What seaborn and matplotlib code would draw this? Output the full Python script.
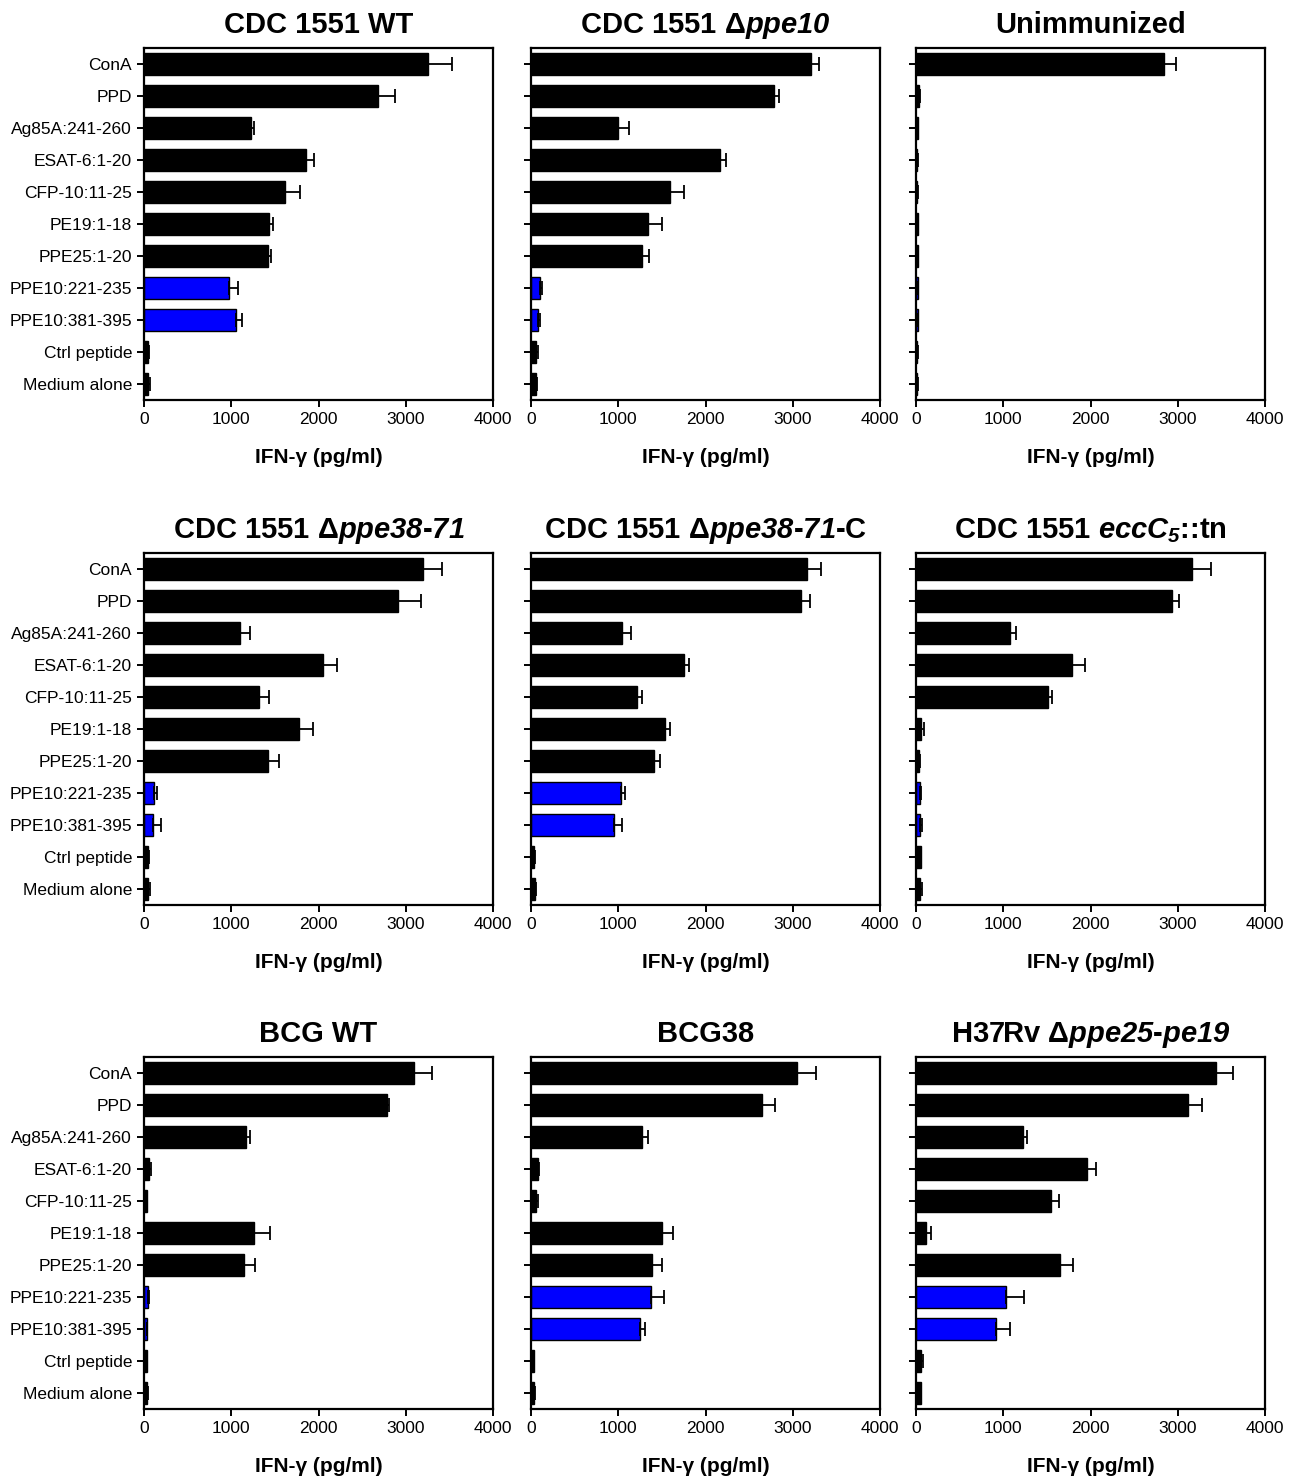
import numpy as np
import pandas as pd
import matplotlib
matplotlib.use("Agg")
import matplotlib.pyplot as plt
import seaborn as sns

# Stimuli (rows of every panel)
stimuli = ["ConA", "PPD", "Ag85A:241-260", "ESAT-6:1-20", "CFP-10:11-25",
           "PE19:1-18", "PPE25:1-20", "PPE10:221-235", "PPE10:381-395",
           "Ctrl peptide", "Medium alone"]

# IFN-gamma means and SEM (pg/ml)
wt_mean = [3250, 2677, 1222, 1856, 1619, 1436, 1421, 974, 1054, 45, 45]
wt_err = [275, 205, 42, 90, 170, 40, 38, 100, 70, 10, 20]

dppe10_mean = [3208, 2789, 998, 2171, 1592, 1345, 1272, 103, 76, 57, 57]
dppe10_err = [95, 50, 125, 60, 160, 155, 80, 27, 30, 20, 8]

unimm_mean = [2839, 38, 18, 15, 15, 20, 18, 20, 18, 15, 15]
unimm_err = [145, 10, 5, 5, 5, 5, 5, 5, 5, 5, 5]

d3871_mean = [3198, 2912, 1095, 2057, 1313, 1782, 1424, 115, 103, 46, 42]
d3871_err = [220, 265, 120, 150, 115, 155, 120, 30, 90, 10, 25]

d3871c_mean = [3162, 3100, 1041, 1753, 1213, 1531, 1405, 1026, 953, 38, 46]
d3871c_err = [165, 100, 100, 58, 58, 61, 73, 57, 88, 10, 10]

ecc_mean = [3166, 2932, 1076, 1788, 1516, 61, 31, 50, 50, 54, 50]
ecc_err = [215, 77, 72, 153, 46, 31, 10, 10, 15, 5, 15]

bcg_mean = [3099, 2786, 1168, 53, 30, 1260, 1141, 50, 30, 30, 38]
bcg_err = [203, 23, 42, 27, 8, 183, 126, 10, 5, 5, 10]

bcg38_mean = [3044, 2646, 1277, 80, 54, 1503, 1384, 1377, 1247, 34, 38]
bcg38_err = [218, 149, 69, 10, 26, 122, 115, 145, 61, 5, 5]

h37_mean = [3435, 3117, 1230, 1964, 1551, 111, 1647, 1032, 913, 61, 53]
h37_err = [195, 165, 42, 95, 84, 57, 149, 202, 160, 15, 5]

# math parts are rendered bold italic (gene names)
titles = [
    "CDC 1551 WT",
    r"CDC 1551 Δ$ppe10$",
    "Unimmunized",
    r"CDC 1551 Δ$ppe38$-$71$",
    r"CDC 1551 Δ$ppe38$-$71$-C",
    r"CDC 1551 $eccC_5$::tn",
    "BCG WT",
    "BCG38",
    r"H37Rv Δ$ppe25$-$pe19$",
]

means = [wt_mean, dppe10_mean, unimm_mean, d3871_mean, d3871c_mean,
         ecc_mean, bcg_mean, bcg38_mean, h37_mean]
errs = [wt_err, dppe10_err, unimm_err, d3871_err, d3871c_err,
        ecc_err, bcg_err, bcg38_err, h37_err]

# Colours: PPE10 peptides highlighted in blue
palette = {s: "black" for s in stimuli}
palette["PPE10:221-235"] = "#0000ff"
palette["PPE10:381-395"] = "#0000ff"

sns.set_theme(style="ticks")
plt.rcParams['font.family'] = ['Liberation Sans', 'DejaVu Sans']
plt.rcParams['text.color'] = 'black'
plt.rcParams['axes.labelcolor'] = 'black'
plt.rcParams['mathtext.fontset'] = 'custom'
plt.rcParams['mathtext.rm'] = 'Liberation Sans:italic:bold'
plt.rcParams['mathtext.it'] = 'Liberation Sans:italic:bold'
plt.rcParams['mathtext.bf'] = 'Liberation Sans:italic:bold'

W, H = 1304, 1479
fig = plt.figure(figsize=(W / 100, H / 100), dpi=100)

col_left = [144, 531, 916]
row_top = [48, 553, 1057]
ax_w, ax_h = 349, 352

for i in range(9):
    r, c = divmod(i, 3)
    ax = fig.add_axes([col_left[c] / W, 1 - (row_top[r] + ax_h) / H, ax_w / W, ax_h / H])
    df = pd.DataFrame({"stimulus": stimuli, "ifng": means[i]})
    sns.barplot(data=df, x="ifng", y="stimulus", hue="stimulus", palette=palette,
                legend=False, orient="h", width=0.7, edgecolor="black",
                linewidth=1, errorbar=None, saturation=1, ax=ax)
    ax.errorbar(means[i], np.arange(len(stimuli)),
                xerr=[np.zeros(len(stimuli)), errs[i]], fmt="none",
                ecolor="black", elinewidth=1.3, capsize=5, capthick=1.3)
    ax.set_xlim(0, 4000)
    ax.set_xticks([0, 1000, 2000, 3000, 4000])
    ax.set_ylim(len(stimuli) - 0.5, -0.5)
    for sp in ax.spines.values():
        sp.set_visible(True)
        sp.set_linewidth(1.6)
        sp.set_color("black")
    ax.tick_params(axis="both", direction="out", length=5, width=1.4,
                   colors="black", labelsize=12.5)
    ax.set_ylabel("")
    ax.set_xlabel("IFN-γ (pg/ml)", fontsize=15, fontweight="bold", labelpad=15)
    if c > 0:
        ax.tick_params(labelleft=False)
    ax.set_title(titles[i], fontsize=21, fontweight="bold", pad=11)

fig.savefig("out.png", dpi=100)
